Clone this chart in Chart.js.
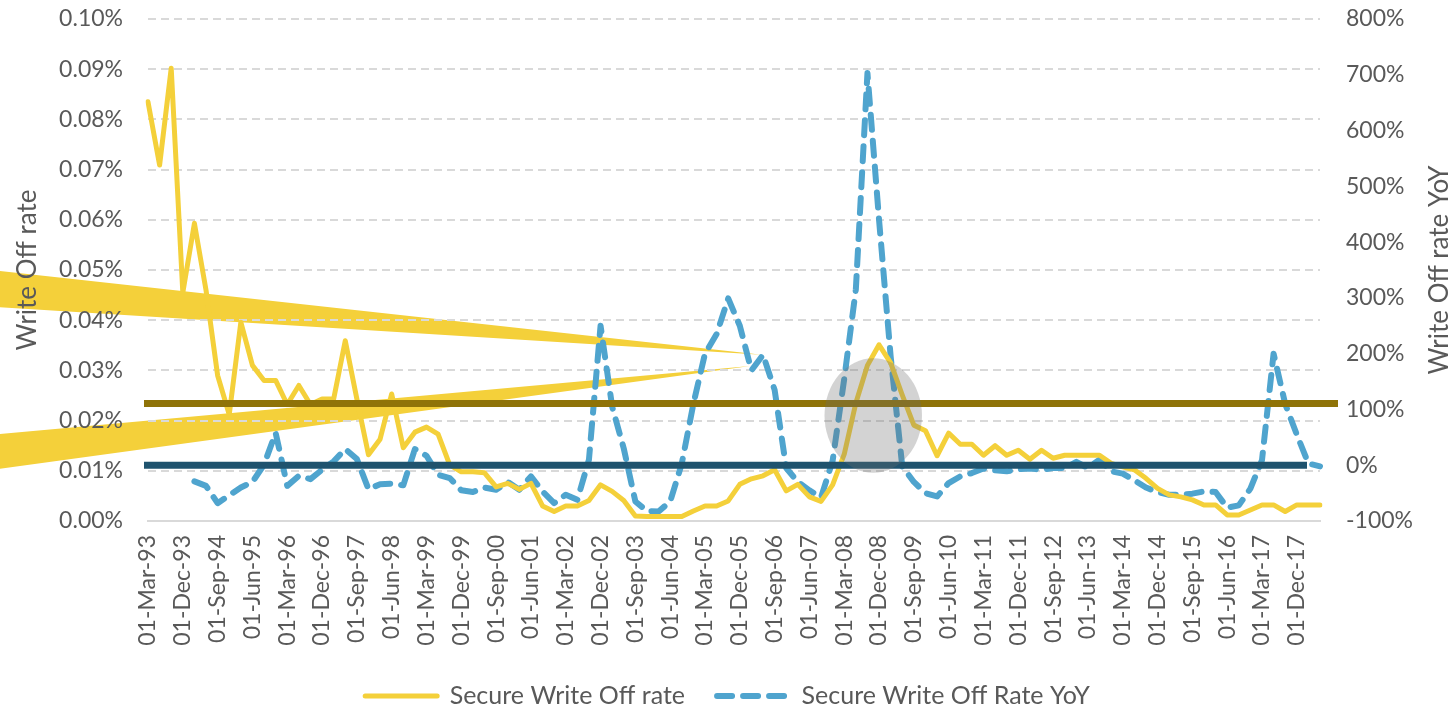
<!DOCTYPE html>
<html>
<head>
<meta charset="utf-8">
<script src="https://cdn.jsdelivr.net/npm/chart.js@4.4.0/dist/chart.umd.min.js"></script>
<style>
  html, body { margin: 0; padding: 0; background: #fff; }
  #wrap { width: 1455px; height: 707px; }
</style>
</head>
<body>
<div id="wrap"><canvas id="c" width="1455" height="707"></canvas></div>
<script>
/* Secure write-off rate (left axis, %) and its YoY change (right axis, %), quarterly Mar-93 .. Jun-18 */
const MONTHS = ["Mar", "Jun", "Sep", "Dec"];
const QUARTERS = [];
for (let y = 1993; y <= 2018; y++) {
  for (const m of MONTHS) {
    if (y === 2018 && m === "Sep") break;
    QUARTERS.push("01-" + m + "-" + String(y % 100).padStart(2, "0"));
  }
}

const RATE = [
  0.0835, 0.0709, 0.0902, 0.0455, 0.0593, 0.046, 0.029, 0.0212, 0.0396, 0.031,
  0.028, 0.028, 0.0232, 0.027, 0.0232, 0.0243, 0.0243, 0.0359, 0.0243, 0.0132,
  0.0163, 0.0253, 0.0146, 0.0177, 0.0187, 0.0173, 0.0112, 0.0098, 0.0098, 0.0096,
  0.0068, 0.0075, 0.0063, 0.0075, 0.003, 0.0019, 0.003, 0.003, 0.0041, 0.0072,
  0.0059, 0.0041, 0.001, 0.0009, 0.0009, 0.0009, 0.0009, 0.002, 0.003, 0.003,
  0.004, 0.0073, 0.0084, 0.009, 0.0102, 0.006, 0.0073, 0.0048, 0.0039, 0.0072,
  0.0133, 0.0235, 0.031, 0.0351, 0.0315, 0.0251, 0.0191, 0.018, 0.013, 0.0175,
  0.0153, 0.0153, 0.0131, 0.015, 0.0131, 0.0141, 0.0123, 0.0141, 0.0125, 0.0131,
  0.0131, 0.0131, 0.0131, 0.0115, 0.0108, 0.0102, 0.0085, 0.0065, 0.0052, 0.0048,
  0.0042, 0.0032, 0.0032, 0.0012, 0.0012, 0.0022, 0.0032, 0.0032, 0.0019, 0.0032,
  0.0032, 0.0032,
];

const YOY = [
  null, null, null, null, -29, -37, -68, -54, -40, -30,
  1, 58, -37, -19, -25, -8, 7, 29, 11, -43,
  -34, -33, -36, 29, 17, -17, -23, -45, -48, -40,
  -44, -30, -44, -20, -47, -68, -53, -62, 10, 250,
  105, 30, -65, -82, -83, -65, 3, 110, 200, 235,
  299, 250, 170, 198, 135, -5, -30, -45, -58, 8,
  155, 315, 703, 440, 195, -2, -30, -50, -56, -32,
  -20, -14, -6, -9, -11, -7, -6, -8, -5, -5,
  6, -5, 10, -11, -15, -27, -40, -48, -53, -53,
  -51, -47, -48, -76, -72, -42, 9, 200, 110, 55,
  3, -2,
];

// reference lines and call-outs drawn over the chart (values in axis units)
const AVG_RATE = 0.0234;   // olive line, left axis
const ZERO_YOY = 0;        // teal line, right axis
const HIGHLIGHT = { x: 62.5, y: 0.021, rx: 4.2, ry: 0.0114 };   // grey disc round the 2008 peak
const WEDGES = [
  { from: -12.8, top: 0.0498, bottom: 0.0426, tip: [52.9, 0.0331] },
  { from: -12.8, top: 0.0173, bottom: 0.0104, tip: [51.9, 0.0309] },
];

const YELLOW = "#F4D03A", BLUE = "#4FA4CE", OLIVE = "#8F7308", TEAL = "#1F536E";
const GREY_TXT = "#595959", GRID = "#D9D9D9";
const FONT = "Lato, 'Open Sans', sans-serif";

Chart.defaults.font.family = FONT;
Chart.defaults.color = GREY_TXT;

const decor = {
  id: "decor",
  // wedges sit behind grid, labels and titles
  beforeDraw(chart) {
    const { ctx, scales: { x, y } } = chart;
    ctx.save();
    ctx.fillStyle = YELLOW;
    WEDGES.forEach(w => {
      ctx.beginPath();
      ctx.moveTo(x.getPixelForValue(w.from), y.getPixelForValue(w.top));
      ctx.lineTo(x.getPixelForValue(w.tip[0]), y.getPixelForValue(w.tip[1]));
      ctx.lineTo(x.getPixelForValue(w.from), y.getPixelForValue(w.bottom));
      ctx.closePath();
      ctx.fill();
    });
    ctx.restore();
  },
  afterDatasetsDraw(chart) {
    const { ctx, chartArea: a, scales: { x, y, y1 } } = chart;
    ctx.save();
    ctx.lineWidth = 7;
    ctx.strokeStyle = OLIVE;
    let py = y.getPixelForValue(AVG_RATE);
    ctx.beginPath(); ctx.moveTo(a.left - 4, py); ctx.lineTo(a.right + 18, py); ctx.stroke();
    ctx.strokeStyle = TEAL;
    py = y1.getPixelForValue(ZERO_YOY);
    ctx.beginPath(); ctx.moveTo(a.left - 4, py); ctx.lineTo(a.right - 13, py); ctx.stroke();

    const cx = x.getPixelForValue(HIGHLIGHT.x), cy = y.getPixelForValue(HIGHLIGHT.y);
    const rx = x.getPixelForValue(HIGHLIGHT.x + HIGHLIGHT.rx) - cx;
    const ry = cy - y.getPixelForValue(HIGHLIGHT.y + HIGHLIGHT.ry);
    ctx.fillStyle = "rgba(110,110,110,0.3)";
    ctx.beginPath(); ctx.ellipse(cx, cy, rx, ry, 0, 0, Math.PI * 2); ctx.fill();

    // right axis title reads bottom-to-top, which the built-in right title does not do
    ctx.translate(chart.width - 15, (a.top + a.bottom) / 2);
    ctx.rotate(-Math.PI / 2);
    ctx.font = "26px " + FONT;
    ctx.fillStyle = GREY_TXT;
    ctx.textAlign = "center";
    ctx.textBaseline = "middle";
    ctx.fillText("Write Off rate YoY", 0, 0);
    ctx.restore();
  },
};

// fixed axis box sizes; drop the label overhang padding so the plot can reach the top
const fixWidth = w => s => { s.width = w; s.paddingTop = 0; s.paddingBottom = 0; };

new Chart(document.getElementById("c"), {
  type: "line",
  data: {
    labels: QUARTERS,
    datasets: [
      { label: "Secure Write Off rate", data: RATE, yAxisID: "y", borderColor: YELLOW, backgroundColor: YELLOW,
        borderWidth: 5, pointRadius: 0, tension: 0, borderJoinStyle: "round", borderCapStyle: "round" },
      { label: "Secure Write Off Rate YoY", data: YOY, yAxisID: "y1", borderColor: BLUE, backgroundColor: BLUE,
        borderWidth: 6, borderDash: [15, 11], pointRadius: 0, tension: 0, borderJoinStyle: "round", borderCapStyle: "round" },
    ],
  },
  options: {
    responsive: false, animation: false,
    layout: { padding: { top: 19, bottom: -11.5, left: 0, right: 0 } },
    plugins: {
      legend: { position: "bottom",
        labels: { usePointStyle: true, pointStyle: "line", pointStyleWidth: 72, padding: 32,
                  color: GREY_TXT, font: { size: 25 },
                  // point-style items take the point's look; give them the line's dash back
                  generateLabels(chart) {
                    const items = Chart.defaults.plugins.legend.labels.generateLabels(chart);
                    items.forEach(it => {
                      const ds = chart.data.datasets[it.datasetIndex];
                      it.strokeStyle = ds.borderColor;
                      it.lineWidth = ds.borderWidth;
                      it.lineDash = ds.borderDash || [];
                      it.lineCap = "round";
                    });
                    return items;
                  } } },
      tooltip: { enabled: false },
    },
    scales: {
      x: {
        grid: { display: false, drawTicks: false },
        border: { display: true, color: GRID, width: 2 },
        ticks: { autoSkip: false, maxRotation: 90, minRotation: 90, padding: 14, font: { size: 23 },
                 callback: (v, i) => i % 3 === 0 ? QUARTERS[i] : "" },
        afterFit: s => { s.height = 130.5; },
      },
      y: {
        position: "left", min: 0, max: 0.1,
        ticks: { stepSize: 0.01, padding: 25, font: { size: 23 }, callback: v => v.toFixed(2) + "%" },
        grid: { color: c => c.tick.value === 0 ? "rgba(0,0,0,0)" : GRID, lineWidth: 2, drawTicks: false },
        border: { display: false, dash: [8, 5] },
        title: { display: true, text: "Write Off rate", font: { size: 26 }, padding: { top: 12, bottom: 0 } },
        afterFit: fixWidth(148),
      },
      y1: {
        position: "right", min: -100, max: 800,
        ticks: { stepSize: 100, padding: 26, font: { size: 23 }, callback: v => v + "%" },
        grid: { display: false, drawTicks: false },
        border: { display: false },
        afterFit: fixWidth(135),
      },
    },
  },
  plugins: [decor],
});
</script>
</body>
</html>
